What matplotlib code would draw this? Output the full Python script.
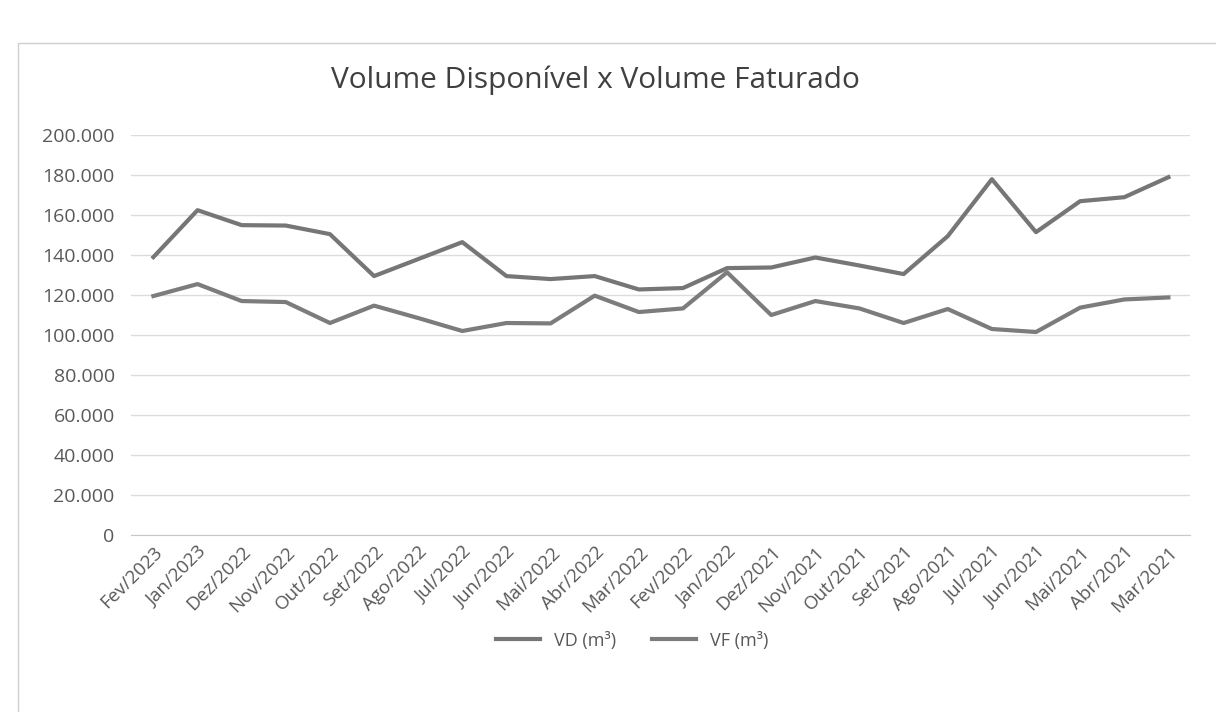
import matplotlib
matplotlib.use("Agg")
import matplotlib.pyplot as plt
from matplotlib.ticker import FuncFormatter, MultipleLocator
from matplotlib.patches import Rectangle

months = ["Fev/2023", "Jan/2023", "Dez/2022", "Nov/2022", "Out/2022", "Set/2022",
          "Ago/2022", "Jul/2022", "Jun/2022", "Mai/2022", "Abr/2022", "Mar/2022",
          "Fev/2022", "Jan/2022", "Dez/2021", "Nov/2021", "Out/2021", "Set/2021",
          "Ago/2021", "Jul/2021", "Jun/2021", "Mai/2021", "Abr/2021", "Mar/2021"]

vd = [139000, 162500, 155000, 154800, 150500, 129500,
      138000, 146500, 129500, 128000, 129500, 122800,
      123500, 133500, 133800, 138800, 134800, 130500,
      149500, 178000, 151500, 167000, 169000, 179000]

vf = [119500, 125500, 117000, 116500, 106000, 114700,
      108500, 102000, 106000, 105800, 119700, 111500,
      113300, 131400, 110000, 117000, 113300, 106000,
      113000, 103000, 101500, 113700, 117800, 118800]

title = "Volume Disponível x Volume Faturado"
series_names = ["VD (m³)", "VF (m³)"]

plt.rcParams['font.family'] = ['Open Sans', 'DejaVu Sans']

fig = plt.figure(figsize=(12.16, 7.12), dpi=100)
fig.patch.set_facecolor('white')
ax = fig.add_axes([0.108, 0.249, 0.871, 0.561])

x = list(range(len(months)))
ax.plot(x, vd, color='#767676', lw=3.0, solid_joinstyle='round', label=series_names[0])
ax.plot(x, vf, color='#7c7c7c', lw=3.0, solid_joinstyle='round', label=series_names[1])

ax.set_xlim(-0.5, len(months) - 0.5)
ax.set_ylim(0, 200000)
ax.yaxis.set_major_locator(MultipleLocator(20000))
ax.yaxis.set_major_formatter(FuncFormatter(lambda v, p: f"{int(v):,}".replace(",", ".")))
ax.grid(axis='y', color='#dcdcdc', lw=1.0)
ax.set_axisbelow(True)
for s in ['top', 'right', 'left']:
    ax.spines[s].set_visible(False)
ax.spines['bottom'].set_color('#c8c8c8')
ax.tick_params(axis='both', length=0, colors='#595959')
ax.tick_params(axis='y', pad=12, labelsize=14)
ax.set_xticks(x)
ax.set_xticklabels(months, rotation=45, ha='right', rotation_mode='anchor')
ax.tick_params(axis='x', pad=6, labelsize=13.5)

fig.text(0.49, 0.887, title, ha='center', va='center', fontsize=21.5, color='#404040')

leg = fig.legend(loc='center', bbox_to_anchor=(0.52, 0.1), ncol=2, frameon=False,
                 fontsize=13, handlelength=2.4, columnspacing=2.0, labelcolor='#595959')

fig.add_artist(Rectangle((0.015, -0.01), 0.99, 0.95, transform=fig.transFigure,
                         fill=False, edgecolor='#cfcfcf', lw=1.0))

fig.savefig("out.png", dpi=100)
